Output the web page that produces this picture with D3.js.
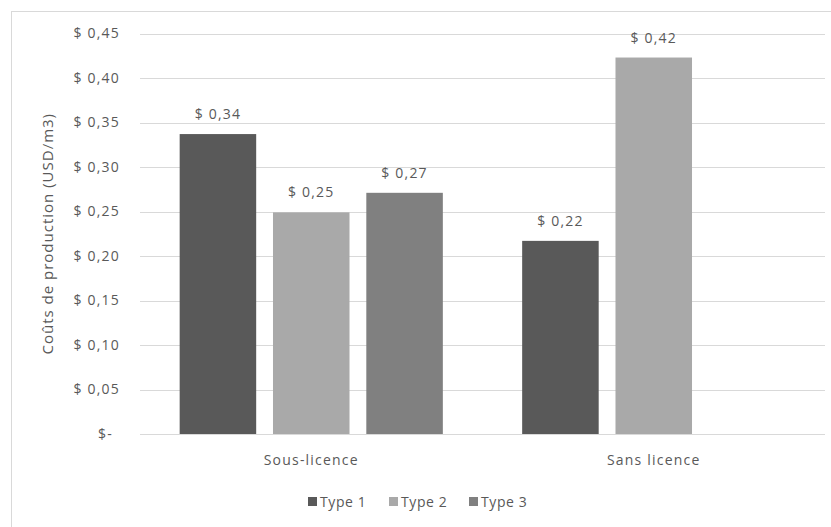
<!DOCTYPE html>
<html>
<head>
<meta charset="utf-8">
<script src="https://cdn.jsdelivr.net/npm/d3@7"></script>
<style>
  body { margin: 0; background: #fff; }
  text { font-family: "Open Sans", "Noto Sans", sans-serif; fill: #595959; letter-spacing: 1.2px; }
</style>
</head>
<body>
<div class="chart"></div>
<script>
// data
var categories = ["Sous-licence", "Sans licence"];
var seriesNames = ["Type 1", "Type 2", "Type 3"];
var type1 = [0.337, 0.217];
var type2 = [0.249, 0.423];
var type3 = [0.271, null];
var yTicks = [0, 0.05, 0.10, 0.15, 0.20, 0.25, 0.30, 0.35, 0.40, 0.45];
var colors = ["#595959", "#a9a9a9", "#808080"];

drawChart();

function fmt(d){
    if (d === 0) return "$-";
    return "$ " + d.toFixed(2).replace(".", ",");
}

function drawChart(){
    var w = 831, h = 527;
    var left = 140, right = 825, top = 33.5, bottom = 434;

    var svg = d3.select(".chart")
      .append("svg")
      .attr("width", w)
      .attr("height", h);

    // chart frame
    svg.append("rect")
      .attr("x", 11.5).attr("y", 11.5)
      .attr("width", 830).attr("height", 530)
      .attr("fill", "#fff")
      .attr("stroke", "#d9d9d9");

    var y = d3.scaleLinear().domain([0, 0.45]).range([bottom, top]);
    var x0 = d3.scaleBand().domain(categories).range([left, right]);
    var x1 = d3.scaleBand().domain(seriesNames).range([0, x0.bandwidth()])
      .paddingInner(0.18).paddingOuter(0.425);

    // gridlines
    svg.append("g").selectAll("line")
      .data(yTicks)
      .enter()
      .append("line")
      .attr("x1", left).attr("x2", right)
      .attr("y1", function(d){ return Math.round(y(d)) + 0.5; })
      .attr("y2", function(d){ return Math.round(y(d)) + 0.5; })
      .attr("stroke", "#d9d9d9")
      .attr("stroke-width", 1);

    // y labels
    svg.append("g").selectAll("text")
      .data(yTicks)
      .enter()
      .append("text")
      .attr("x", function(d){ return d === 0 ? 113 : 120; })
      .attr("y", function(d){ return y(d); })
      .attr("dy", "0.35em")
      .attr("text-anchor", "end")
      .style("font-size", "14px")
      .text(fmt);

    // y title
    svg.append("text")
      .attr("transform", "translate(53," + ((top + bottom) / 2) + ") rotate(-90)")
      .attr("text-anchor", "middle")
      .style("font-size", "15px")
      .style("letter-spacing", "1px")
      .text("Coûts de production (USD/m3)");

    var rows = [];
    var all = [type1, type2, type3];
    categories.forEach(function(c, i){
        seriesNames.forEach(function(s, j){
            if (all[j][i] != null) rows.push({cat: c, name: s, value: all[j][i], color: colors[j]});
        });
    });

    // bars
    svg.append("g").selectAll("rect")
      .data(rows)
      .enter()
      .append("rect")
      .attr("x", function(d){ return x0(d.cat) + x1(d.name); })
      .attr("y", function(d){ return y(d.value); })
      .attr("width", x1.bandwidth())
      .attr("height", function(d){ return y(0) - y(d.value); })
      .attr("fill", function(d){ return d.color; });

    // value labels
    svg.append("g").selectAll("text")
      .data(rows)
      .enter()
      .append("text")
      .attr("x", function(d){ return x0(d.cat) + x1(d.name) + x1.bandwidth() / 2; })
      .attr("y", function(d){ return y(d.value) - 15; })
      .attr("text-anchor", "middle")
      .style("font-size", "14px")
      .text(function(d){ return "$ " + d.value.toFixed(2).replace(".", ","); });

    // category labels
    svg.append("g").selectAll("text")
      .data(categories)
      .enter()
      .append("text")
      .attr("x", function(d){ return x0(d) + x0.bandwidth() / 2; })
      .attr("y", 465)
      .attr("text-anchor", "middle")
      .style("font-size", "14px")
      .text(function(d){ return d; });

    // legend
    var legX = [308, 389, 469];
    var leg = svg.append("g").selectAll("g")
      .data(seriesNames)
      .enter()
      .append("g")
      .attr("transform", function(d, i){ return "translate(" + legX[i] + ",502)"; });
    leg.append("rect")
      .attr("x", 0).attr("y", -5)
      .attr("width", 9).attr("height", 9)
      .attr("fill", function(d, i){ return colors[i]; });
    leg.append("text")
      .attr("x", 12).attr("y", 0)
      .attr("dy", "0.35em")
      .style("font-size", "14px")
      .style("letter-spacing", "0.6px")
      .text(function(d){ return d; });
}
</script>
</body>
</html>
